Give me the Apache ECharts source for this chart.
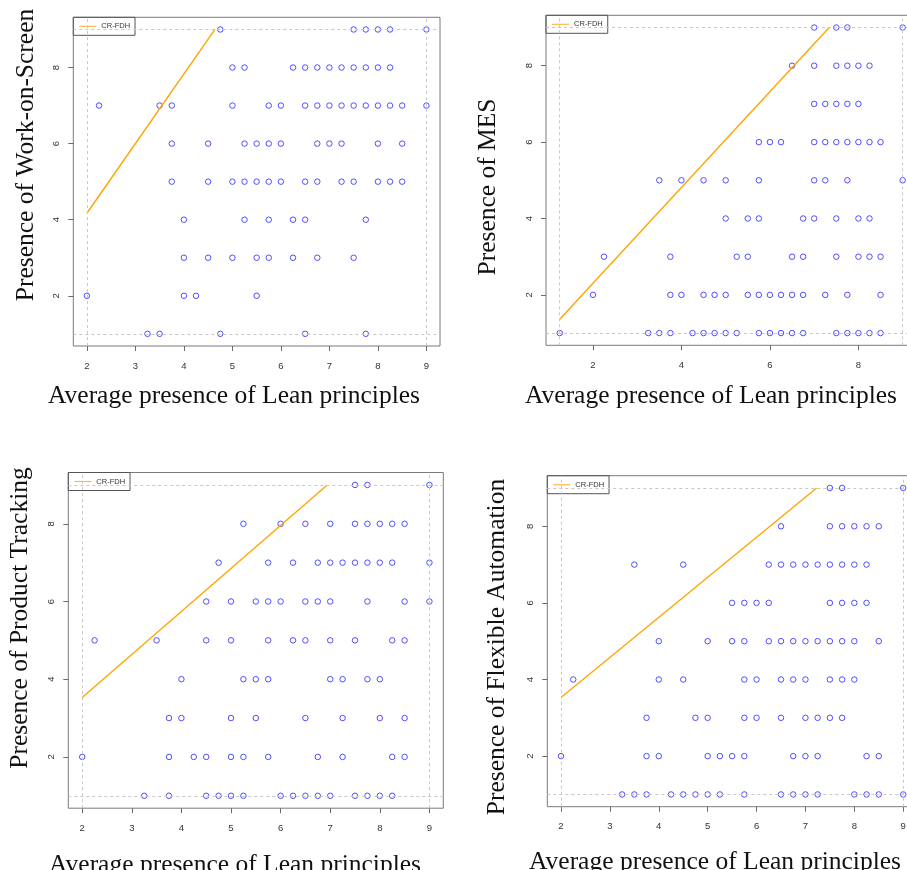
<!DOCTYPE html>
<html>
<head>
<meta charset="utf-8">
<title>CR-FDH scatter plots</title>
<script src="https://cdn.jsdelivr.net/npm/echarts@6/dist/echarts.min.js"></script>
<style>
  html, body { margin: 0; padding: 0; background: #fff; }
</style>
</head>
<body>
<div id="main" style="width:907px;height:870px;"></div>
<script>
// points of each panel, one row per y level: [y, [x values]]
var wosRows = [
  [9, [4.75, 7.5, 7.75, 8, 8.25, 9]],
  [8, [5, 5.25, 6.25, 6.5, 6.75, 7, 7.25, 7.5, 7.75, 8, 8.25]],
  [7, [2.25, 3.5, 3.75, 5, 5.75, 6, 6.5, 6.75, 7, 7.25, 7.5, 7.75, 8, 8.25, 8.5, 9]],
  [6, [3.75, 4.5, 5.25, 5.5, 5.75, 6, 6.75, 7, 7.25, 8, 8.5]],
  [5, [3.75, 4.5, 5, 5.25, 5.5, 5.75, 6, 6.5, 6.75, 7.25, 7.5, 8, 8.25, 8.5]],
  [4, [4, 5.25, 5.75, 6.25, 6.5, 7.75]],
  [3, [4, 4.5, 5, 5.5, 5.75, 6.25, 6.75, 7.5]],
  [2, [2, 4, 4.25, 5.5]],
  [1, [3.25, 3.5, 4.75, 6.5, 7.75]]
];
var mesRows = [
  [9, [7, 7.5, 7.75, 9]],
  [8, [6.5, 7, 7.5, 7.75, 8, 8.25]],
  [7, [7, 7.25, 7.5, 7.75, 8]],
  [6, [5.75, 6, 6.25, 7, 7.25, 7.5, 7.75, 8, 8.25, 8.5]],
  [5, [3.5, 4, 4.5, 5, 5.75, 7, 7.25, 7.75, 9]],
  [4, [5, 5.5, 5.75, 6.75, 7, 7.5, 8, 8.25]],
  [3, [2.25, 3.75, 5.25, 5.5, 6.5, 6.75, 7.5, 8, 8.25, 8.5]],
  [2, [2, 3.75, 4, 4.5, 4.75, 5, 5.5, 5.75, 6, 6.25, 6.5, 6.75, 7.25, 7.75, 8.5]],
  [1, [1.25, 3.25, 3.5, 3.75, 4.25, 4.5, 4.75, 5, 5.25, 5.75, 6, 6.25, 6.5, 6.75, 7.5, 7.75, 8, 8.25, 8.5]]
];
var prtRows = [
  [9, [7.5, 7.75, 9]],
  [8, [5.25, 6, 6.5, 7, 7.5, 7.75, 8, 8.25, 8.5]],
  [7, [4.75, 5.75, 6.25, 6.75, 7, 7.25, 7.5, 7.75, 8, 8.25, 9]],
  [6, [4.5, 5, 5.5, 5.75, 6, 6.5, 6.75, 7, 7.75, 8.5, 9]],
  [5, [2.25, 3.5, 4.5, 5, 5.75, 6.25, 6.5, 7, 7.5, 8.25, 8.5]],
  [4, [4, 5.25, 5.5, 5.75, 7, 7.25, 7.75, 8]],
  [3, [3.75, 4, 5, 5.5, 6.5, 7.25, 8, 8.5]],
  [2, [2, 3.75, 4.25, 4.5, 5, 5.25, 5.75, 6.75, 7.25, 8.25, 8.5]],
  [1, [3.25, 3.75, 4.5, 4.75, 5, 5.25, 6, 6.25, 6.5, 6.75, 7, 7.5, 7.75, 8, 8.25]]
];
var faRows = [
  [9, [7.5, 7.75, 9]],
  [8, [6.5, 7.5, 7.75, 8, 8.25, 8.5]],
  [7, [3.5, 4.5, 6.25, 6.5, 6.75, 7, 7.25, 7.5, 7.75, 8, 8.25]],
  [6, [5.5, 5.75, 6, 6.25, 7.5, 7.75, 8, 8.25]],
  [5, [4, 5, 5.5, 5.75, 6.25, 6.5, 6.75, 7, 7.25, 7.5, 7.75, 8, 8.5]],
  [4, [2.25, 4, 4.5, 5.75, 6, 6.5, 6.75, 7, 7.5, 7.75, 8]],
  [3, [3.75, 4.75, 5, 5.75, 6, 6.5, 7, 7.25, 7.5, 7.75]],
  [2, [2, 3.75, 4, 5, 5.25, 5.5, 5.75, 6.75, 7, 7.25, 8.25, 8.5]],
  [1, [3.25, 3.5, 3.75, 4.25, 4.5, 4.75, 5, 5.25, 5.75, 6.5, 6.75, 7, 7.25, 8, 8.25, 8.5, 9]]
];

// CR-FDH ceiling lines, read as end points
var wosLine = [[2, 4.17], [4.64, 9]];
var mesLine = [[1.25, 1.36], [7.34, 9]];
var prtLine = [[2, 3.53], [6.94, 9]];
var faLine = [[2, 3.53], [7.23, 9]];

// tick labels
var xTicksAll = [2, 3, 4, 5, 6, 7, 8, 9];
var xTicksEven = [2, 4, 6, 8];
var yTicks = [2, 4, 6, 8];

var xTitle = 'Average presence of Lean principles';
var yTitles = ['Presence of Work-on-Screen', 'Presence of MES', 'Presence of Product Tracking', 'Presence of Flexible Automation'];

function toPoints(rows) {
  var out = [];
  rows.forEach(function (r) {
    r[1].forEach(function (x) { out.push([x, r[0]]); });
  });
  return out;
}

// R style axis range: data range stretched 4% each side
function rRange(vals) {
  var lo = Math.min.apply(null, vals), hi = Math.max.apply(null, vals);
  var d = (hi - lo) * 0.04;
  return { lo: lo, hi: hi, min: lo - d, max: hi + d };
}

var panels = [
  { rows: wosRows, line: wosLine, xTicks: xTicksAll, grid: { left: 73.3, top: 17.3, width: 366.7, height: 328.7 },
    yt: [26, 155], xt: [234, 396.5] },
  { rows: mesRows, line: mesLine, xTicks: xTicksEven, grid: { left: 546, top: 15.3, width: 370.4, height: 330 },
    yt: [488.5, 187], xt: [711, 396.5] },
  { rows: prtRows, line: prtLine, xTicks: xTicksAll, grid: { left: 68.3, top: 472.5, width: 375, height: 335.7 },
    yt: [20.5, 618], xt: [235, 865] },
  { rows: faRows, line: faLine, xTicks: xTicksAll, grid: { left: 547.3, top: 475.7, width: 369.6, height: 331 },
    yt: [497.5, 647], xt: [715, 862] }
];

var option = {
  animation: false,
  backgroundColor: '#fff',
  grid: [], xAxis: [], yAxis: [], series: [], legend: [], graphic: []
};

panels.forEach(function (p, i) {
  var pts = toPoints(p.rows);
  var xr = rRange(pts.map(function (d) { return d[0]; }));
  var yr = rRange(pts.map(function (d) { return d[1]; }));

  option.grid.push({
    left: p.grid.left, top: p.grid.top, width: p.grid.width, height: p.grid.height,
    show: true, borderColor: '#7a7a7a', borderWidth: 1, backgroundColor: 'transparent',
    containLabel: false, outerBoundsMode: 'none'
  });
  option.xAxis.push({
    gridIndex: i, type: 'value', min: xr.min, max: xr.max,
    axisLine: { show: false }, splitLine: { show: false },
    axisTick: { show: true, inside: false, length: 5, lineStyle: { color: '#6a6a6a' }, customValues: p.xTicks },
    axisLabel: { show: true, margin: 15, fontSize: 9.5, color: '#333', fontFamily: 'Liberation Sans', customValues: p.xTicks }
  });
  option.yAxis.push({
    gridIndex: i, type: 'value', min: yr.min, max: yr.max,
    axisLine: { show: false }, splitLine: { show: false },
    axisTick: { show: true, inside: false, length: 5, lineStyle: { color: '#6a6a6a' }, customValues: yTicks },
    axisLabel: { show: true, margin: 12, rotate: 90, fontSize: 9.5, color: '#333', fontFamily: 'Liberation Sans', customValues: yTicks }
  });
  option.series.push({
    type: 'scatter', xAxisIndex: i, yAxisIndex: i, data: pts, silent: true,
    symbol: 'circle', symbolSize: 5.5, z: 3,
    itemStyle: { color: 'rgba(0,0,0,0)', borderColor: '#3c3cff', borderWidth: 1, opacity: 0.9 },
    markLine: {
      silent: true, symbol: ['none', 'none'], label: { show: false },
      lineStyle: { type: [3, 3], color: '#c8c8c8', width: 1 },
      data: [{ xAxis: xr.lo }, { xAxis: xr.hi }, { yAxis: yr.lo }, { yAxis: yr.hi }]
    }
  });
  option.series.push({
    type: 'line', name: 'CR-FDH', xAxisIndex: i, yAxisIndex: i, data: p.line,
    symbol: 'none', silent: true, z: 4,
    lineStyle: { color: '#ffa500', width: 1.4 }, itemStyle: { color: '#ffa500' }
  });
  option.legend.push({
    data: [{ name: 'CR-FDH', icon: 'rect' }], left: p.grid.left, top: p.grid.top, selectedMode: false,
    borderColor: '#555', borderWidth: 1, padding: [4, 5, 4, 6],
    itemWidth: 17, itemHeight: 1.2, itemGap: 0,
    itemStyle: { color: '#ffb84d' },
    textStyle: { fontSize: 7.5, color: '#333', fontFamily: 'Liberation Sans', lineHeight: 10 }
  });
  option.graphic.push({
    type: 'text', x: p.yt[0], y: p.yt[1], rotation: Math.PI / 2, silent: true,
    style: { text: yTitles[i], font: '25.5px "Liberation Serif"', fill: '#111', align: 'center', verticalAlign: 'middle' }
  });
  option.graphic.push({
    type: 'text', x: p.xt[0], y: p.xt[1], silent: true,
    style: { text: xTitle, font: '25.5px "Liberation Serif"', fill: '#111', align: 'center', verticalAlign: 'middle' }
  });
});

var myChart = echarts.init(document.getElementById('main'));
myChart.setOption(option);
</script>
</body>
</html>
